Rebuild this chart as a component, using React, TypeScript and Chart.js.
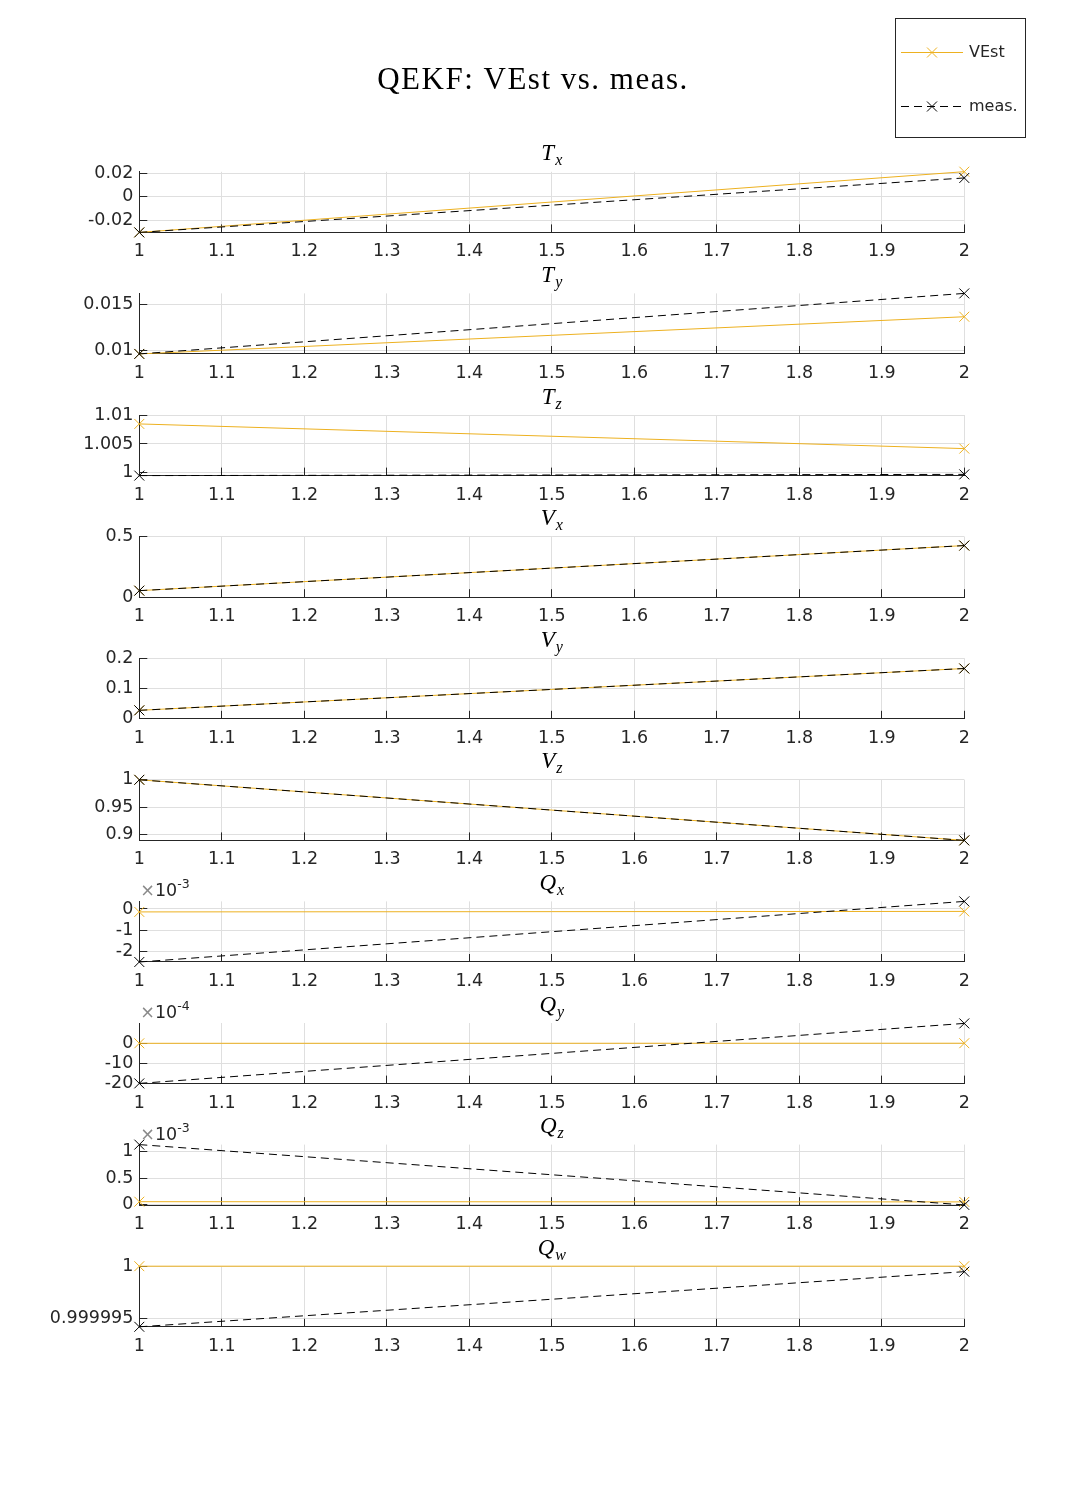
import React, { useEffect, useRef } from "react";
import { Chart, registerables } from "chart.js";

Chart.register(...registerables);

// ---------------- data ----------------
const xValues = [1, 2];
const xTickValues = [1, 1.1, 1.2, 1.3, 1.4, 1.5, 1.6, 1.7, 1.8, 1.9, 2];
const xTickLabels = ["1", "1.1", "1.2", "1.3", "1.4", "1.5", "1.6", "1.7", "1.8", "1.9", "2"];

const titleText = "QEKF: VEst vs. meas.";
const seriesNames = ["VEst", "meas."];
const panelSymbols = ["T", "T", "T", "V", "V", "V", "Q", "Q", "Q", "Q"];
const panelSubs = ["x", "y", "z", "x", "y", "z", "x", "y", "z", "w"];

const vestTx = [-0.0301, 0.0213];
const measTx = [-0.0301, 0.016];
const vestTy = [0.00968, 0.01366];
const measTy = [0.00968, 0.01616];
const vestTz = [1.00846, 1.0042];
const measTz = [0.99954, 0.99975];
const vestVx = [0.054, 0.426];
const measVx = [0.054, 0.426];
const vestVy = [0.028, 0.166];
const measVy = [0.028, 0.166];
const vestVz = [1.0, 0.889];
const measVz = [1.0, 0.889];
const vestQx = [-0.00014, -0.000115];
const measQx = [-0.00252, 0.00036];
const vestQy = [-0.000005, -0.000001];
const measQy = [-0.00199, 0.00098];
const vestQz = [0.000056, 0.000052];
const measQz = [0.00113, -0.000005];
const vestQw = [1.0, 1.0];
const measQw = [0.99999425, 0.99999948];

const vestSeries = [vestTx, vestTy, vestTz, vestVx, vestVy, vestVz, vestQx, vestQy, vestQz, vestQw];
const measSeries = [measTx, measTy, measTz, measVx, measVy, measVz, measQx, measQy, measQz, measQw];

const yTickValues = [
  [-0.02, 0, 0.02],
  [0.01, 0.015],
  [1, 1.005, 1.01],
  [0, 0.5],
  [0, 0.1, 0.2],
  [0.9, 0.95, 1],
  [-0.002, -0.001, 0],
  [-0.002, -0.001, 0],
  [0, 0.0005, 0.001],
  [0.999995, 1],
];
const yTickLabels = [
  ["-0.02", "0", "0.02"],
  ["0.01", "0.015"],
  ["1", "1.005", "1.01"],
  ["0", "0.5"],
  ["0", "0.1", "0.2"],
  ["0.9", "0.95", "1"],
  ["-2", "-1", "0"],
  ["-20", "-10", "0"],
  ["0", "0.5", "1"],
  ["0.999995", "1"],
];
const yMins = [-0.0301, 0.00967, 0.99954, 0, 0, 0.889, -0.00252, -0.002, -0.00001, 0.99999425];
const yMaxs = [0.0212, 0.01616, 1.01, 0.5, 0.2, 1.0, 0.00036, 0.001, 0.00113, 1.0];
const yExponents = [null, null, null, null, null, null, "-3", "-4", "-3", null];

// ---------------- layout / style ----------------
const PAGE_W = 1066;
const PAGE_H = 1489;
const PLOT_LEFT = 139.3;
const PLOT_RIGHT = 964.3;
const FIRST_TOP = 171.8;
const PITCH = 121.6;
const PLOT_H = 60.6;
const PAD_TOP = 60;
const BOTTOM_H = 40;

const ORANGE = "#EDB120";
const DARK = "#262626";
const GRID = "#dfdfdf";
const TICK_FONT = '"DejaVu Sans"';
const TICK_SIZE = 17.5;

function alignPx(p: number) {
  return Math.round(p - 0.5) + 0.5;
}

function drawCross(ctx: CanvasRenderingContext2D, x: number, y: number, h: number, color: string) {
  ctx.save();
  ctx.strokeStyle = color;
  ctx.lineWidth = 1;
  ctx.setLineDash([]);
  ctx.beginPath();
  ctx.moveTo(x - h, y - h);
  ctx.lineTo(x + h, y + h);
  ctx.moveTo(x - h, y + h);
  ctx.lineTo(x + h, y - h);
  ctx.stroke();
  ctx.restore();
}

function makeDecorPlugin(index: number) {
  return {
    id: "panelDecor" + index,
    beforeDatasetsDraw(chart: any) {
      const ctx = chart.ctx as CanvasRenderingContext2D;
      const { left, bottom } = chart.chartArea;
      ctx.save();
      ctx.strokeStyle = DARK;
      ctx.lineWidth = 1;
      chart.scales.y.ticks.forEach((t: any) => {
        const p = alignPx(chart.scales.y.getPixelForValue(t.value));
        ctx.beginPath();
        ctx.moveTo(left, p);
        ctx.lineTo(left + 8, p);
        ctx.stroke();
      });
      chart.scales.x.ticks.forEach((t: any) => {
        const p = alignPx(chart.scales.x.getPixelForValue(t.value));
        ctx.beginPath();
        ctx.moveTo(p, bottom);
        ctx.lineTo(p, bottom - 8);
        ctx.stroke();
      });
      ctx.restore();
    },
    afterDraw(chart: any) {
      const ctx = chart.ctx as CanvasRenderingContext2D;
      const { left, right, top } = chart.chartArea;
      ctx.save();
      // subplot title
      const sym = panelSymbols[index];
      const sub = panelSubs[index];
      ctx.fillStyle = "#000";
      ctx.textBaseline = "alphabetic";
      ctx.textAlign = "left";
      ctx.font = 'italic 23px "Liberation Serif"';
      const w1 = ctx.measureText(sym).width;
      ctx.font = 'italic 16px "Liberation Serif"';
      const w2 = ctx.measureText(sub).width;
      const cx = (left + right) / 2;
      const x0 = cx - (w1 + w2 + 1) / 2;
      const base = top - 11.5;
      ctx.font = 'italic 23px "Liberation Serif"';
      ctx.fillText(sym, x0, base);
      ctx.font = 'italic 16px "Liberation Serif"';
      ctx.fillText(sub, x0 + w1 + 1, base + 5);

      // exponent label
      const ex = yExponents[index];
      if (ex) {
        const eb = top - 5;
        ctx.font = `${TICK_SIZE}px ${TICK_FONT}`;
        ctx.fillStyle = "#8a8a8a";
        ctx.fillText("\u00d7", left + 1, eb);
        const wx = ctx.measureText("\u00d7").width;
        ctx.fillStyle = DARK;
        ctx.fillText("10", left + 1 + wx, eb);
        const w10 = ctx.measureText("10").width;
        ctx.font = `12.5px ${TICK_FONT}`;
        ctx.fillText(ex, left + 1 + wx + w10, eb - 8);
      }

      if (index === 0) {
        // main title
        ctx.fillStyle = "#000";
        ctx.font = '31px "Liberation Serif"';
        ctx.textAlign = "center";
        (ctx as any).letterSpacing = "1.5px";
        ctx.fillText(titleText, 533, 89);
        (ctx as any).letterSpacing = "0px";

        // legend
        ctx.textAlign = "left";
        ctx.strokeStyle = DARK;
        ctx.lineWidth = 1;
        ctx.setLineDash([]);
        ctx.strokeRect(895.5, 18.5, 130, 119);
        const rows = [52.5, 106.5];
        const colors = [ORANGE, "#000"];
        const dashes = [[], [8, 5]];
        rows.forEach((ry, k) => {
          ctx.save();
          ctx.strokeStyle = colors[k];
          ctx.lineWidth = 1;
          ctx.setLineDash(dashes[k]);
          ctx.beginPath();
          ctx.moveTo(901, ry);
          ctx.lineTo(963, ry);
          ctx.stroke();
          ctx.restore();
          drawCross(ctx, 932, ry, 5, colors[k]);
          ctx.fillStyle = DARK;
          ctx.font = `16px ${TICK_FONT}`;
          ctx.textBaseline = "middle";
          ctx.fillText(seriesNames[k], 969, ry);
        });
      }
      ctx.restore();
    },
  };
}

function Panel({ index }: { index: number }) {
  const ref = useRef<HTMLCanvasElement | null>(null);
  const top = FIRST_TOP + PITCH * index;
  const canvasTop = index === 0 ? 0 : Math.floor(top - PAD_TOP);
  const padTop = top - canvasTop;
  const H = Math.ceil(padTop + PLOT_H + BOTTOM_H);
  const xH = H - padTop - PLOT_H;

  useEffect(() => {
    if (!ref.current) return;
    const yVals = yTickValues[index];
    const yLabs = yTickLabels[index];
    const chart = new Chart(ref.current, {
      type: "line",
      data: {
        datasets: [
          {
            label: seriesNames[1],
            data: xValues.map((x, j) => ({ x, y: measSeries[index][j] })),
            borderColor: "#000",
            borderWidth: 1,
            borderDash: [8, 5],
            pointStyle: "crossRot",
            pointRadius: 7,
            pointBorderWidth: 1,
            pointBorderColor: "#000",
            pointBackgroundColor: "rgba(0,0,0,0)",
            fill: false,
            tension: 0,
            clip: false,
            order: 0,
          },
          {
            label: seriesNames[0],
            data: xValues.map((x, j) => ({ x, y: vestSeries[index][j] })),
            borderColor: ORANGE,
            borderWidth: 1,
            pointStyle: "crossRot",
            pointRadius: 7,
            pointBorderWidth: 1,
            pointBorderColor: ORANGE,
            pointBackgroundColor: "rgba(0,0,0,0)",
            fill: false,
            tension: 0,
            clip: false,
            order: 1,
          },
        ],
      },
      options: {
        animation: false,
        responsive: false,
        maintainAspectRatio: false,
        events: [],
        layout: { padding: { left: 0, right: PAGE_W - PLOT_RIGHT, top: padTop, bottom: 0 } },
        plugins: {
          legend: { display: false },
          tooltip: { enabled: false },
          title: { display: false },
        },
        scales: {
          x: {
            type: "linear",
            min: 1,
            max: 2,
            afterBuildTicks: (s: any) => {
              s.ticks = xTickValues.map((v) => ({ value: v }));
            },
            afterFit: (s: any) => {
              s.height = xH;
            },
            ticks: {
              autoSkip: false,
              maxRotation: 0,
              padding: 9,
              color: DARK,
              font: { family: TICK_FONT, size: TICK_SIZE },
              callback: (_v: any, i: number) => xTickLabels[i],
            },
            grid: { color: GRID, drawTicks: false, lineWidth: 1 },
            border: { display: true, color: DARK, width: 1 },
          },
          y: {
            type: "linear",
            min: yMins[index],
            max: yMaxs[index],
            afterBuildTicks: (s: any) => {
              s.ticks = yVals.map((v) => ({ value: v }));
            },
            afterFit: (s: any) => {
              s.width = PLOT_LEFT;
            },
            ticks: {
              autoSkip: false,
              padding: 6,
              color: DARK,
              font: { family: TICK_FONT, size: TICK_SIZE },
              callback: (_v: any, i: number) => yLabs[i],
            },
            grid: { color: GRID, drawTicks: false, lineWidth: 1 },
            border: { display: true, color: DARK, width: 1 },
          },
        },
      } as any,
      plugins: [makeDecorPlugin(index)],
    });
    return () => chart.destroy();
  }, [index]);

  return (
    <canvas
      ref={ref}
      width={PAGE_W}
      height={H}
      style={{ position: "absolute", left: 0, top: canvasTop, width: PAGE_W, height: H }}
    />
  );
}

export default function App() {
  return (
    <div
      style={{
        position: "absolute",
        left: 0,
        top: 0,
        width: PAGE_W,
        height: PAGE_H,
        background: "#fff",
        overflow: "hidden",
      }}
    >
      {panelSymbols.map((_, i) => (
        <Panel key={i} index={i} />
      ))}
    </div>
  );
}
